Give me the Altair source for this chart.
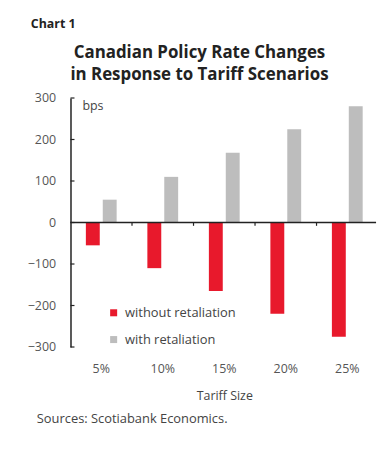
import altair as alt
import pandas as pd

categories = ["5%", "10%", "15%", "20%", "25%"]
without_retaliation = [-55, -110, -165, -220, -275]
with_retaliation = [55, 110, 168, 225, 280]
series_names = ["without retaliation", "with retaliation"]
y_ticks = [-300, -200, -100, 0, 100, 200, 300]
boundary_cats = ["10%", "15%", "20%", "25%"]

FONT = "Open Sans"
RED = "#E8192C"
GREY = "#BDBDBD"

rows = []
for c, a, b in zip(categories, without_retaliation, with_retaliation):
    rows.append({"cat": c, "series": series_names[0], "value": a})
    rows.append({"cat": c, "series": series_names[1], "value": b})
df = pd.DataFrame(rows)

xscale = alt.Scale(domain=categories, paddingInner=0, paddingOuter=0)
yscale = alt.Scale(domain=[-300, 300], nice=False)

bars = alt.Chart(df).mark_bar(size=14).encode(
    x=alt.X("cat:N", scale=xscale, sort=categories,
            axis=alt.Axis(title="Tariff Size", labelAngle=0, domain=False, ticks=False,
                          labelPadding=16, labelFontSize=12.5, labelColor="#555555",
                          labelFont=FONT, titleFont=FONT, titleFontSize=12.5,
                          titleFontWeight="normal", titleColor="#444444", titlePadding=14)),
    xOffset=alt.XOffset("series:N", sort=series_names,
                        scale=alt.Scale(paddingInner=0, paddingOuter=0.82)),
    y=alt.Y("value:Q", scale=yscale,
            axis=alt.Axis(title=None, values=y_ticks, ticks=False, grid=False,
                          domainColor="#222222", domainWidth=1.5, labelPadding=15,
                          labelFontSize=12.5, labelColor="#555555", labelFont=FONT)),
    color=alt.Color("series:N", sort=series_names,
                    scale=alt.Scale(domain=series_names, range=[RED, GREY]),
                    legend=alt.Legend(title=None, orient="none", legendX=37, legendY=210,
                                      symbolType="square", symbolSize=50, rowPadding=13,
                                      labelFontSize=13, labelFont=FONT, labelColor="#444444",
                                      symbolStrokeWidth=0, labelOffset=5)),
)

zero = alt.Chart(pd.DataFrame({"v": [0]})).mark_rule(color="#222222", strokeWidth=1.5).encode(
    y=alt.Y("v:Q", scale=yscale), x=alt.value(0), x2=alt.value(308)
)

ticks_df = pd.DataFrame({"cat": boundary_cats, "y0": [0] * 4, "y1": [-8] * 4})
bticks = alt.Chart(ticks_df).mark_rule(color="#222222", strokeWidth=1.2).encode(
    x=alt.X("cat:N", scale=xscale, sort=categories, bandPosition=0),
    y=alt.Y("y0:Q", scale=yscale), y2="y1:Q"
)

yt_df = pd.DataFrame({"v": y_ticks})
yticks = alt.Chart(yt_df).mark_rule(color="#222222", strokeWidth=1.2).encode(
    y=alt.Y("v:Q", scale=yscale), x=alt.value(0), x2=alt.value(4)
)

def label(text, x, y, size=12, weight="normal", align="left", color="#444444"):
    return alt.Chart(pd.DataFrame({"t": [text]})).mark_text(
        align=align, baseline="middle", fontSize=size, fontWeight=weight,
        font=FONT, color=color
    ).encode(text="t:N", x=alt.value(x), y=alt.value(y))

texts = [
    label("Chart 1", -40, -75, size=12.5, weight="bold", color="#222222"),
    label("Canadian Policy Rate Changes", 130, -45, size=17, weight="bold", align="center", color="#222222"),
    label("in Response to Tariff Scenarios", 130, -23, size=17, weight="bold", align="center", color="#222222"),
    label("bps", 12, 8, size=12.5),
    label("Sources: Scotiabank Economics.", -34, 324, size=13),
]

chart = alt.layer(bars, zero, bticks, yticks, *texts).properties(
    width=310, height=251,
    padding={"left": 63, "top": 89, "right": 5, "bottom": 90},
    autosize=alt.AutoSizeParams(type="none"),
).configure_view(stroke=None)

chart.save("out.html", embed_options={"renderer": "svg", "actions": False})
